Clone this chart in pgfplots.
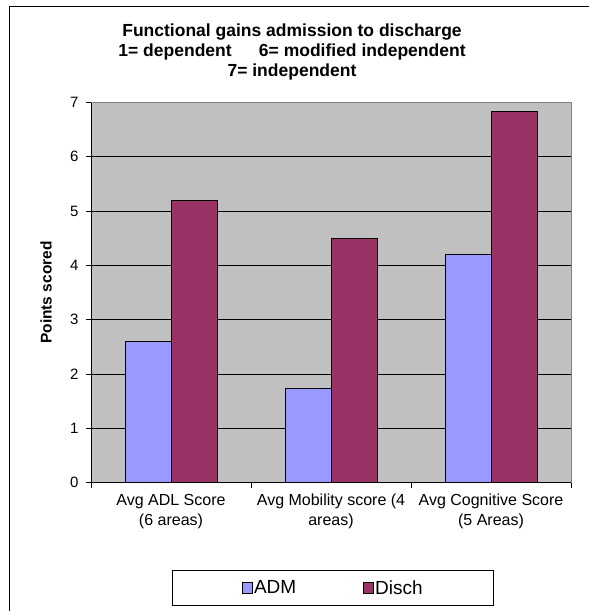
\documentclass[border=0pt]{standalone}
\usepackage{pgfplots}
\pgfplotsset{compat=1.18}
\usepackage{fontspec}
\setmainfont{Liberation Sans}
\definecolor{admc}{HTML}{9999FF}
\definecolor{disc}{HTML}{993366}
\definecolor{plotgray}{HTML}{C0C0C0}
\definecolor{framegray}{HTML}{808080}

\begin{document}
\begin{tikzpicture}
  \useasboundingbox (0pt,0pt) rectangle (589pt,-611pt);
  % chart frame (cut off at right and bottom)
  \draw[line width=0.9pt] (9pt,-611pt) -- (9pt,-6.5pt) -- (589pt,-6.5pt);
  \node[font=\bfseries\fontsize{17.5}{20}\selectfont, align=center,
        anchor=north, inner sep=0pt] at (292pt,-23.5pt)
    {Functional gains admission to discharge\\
     1= dependent \quad\ 6= modified independent\\
     7= independent};
  \begin{axis}[
      at={(91pt,-482.5pt)}, anchor=south west,
      scale only axis, width=480pt, height=380pt,
      ybar=0pt, bar width=46pt,
      xmin=-0.5, xmax=2.5, ymin=0, ymax=7,
      axis background/.style={fill=plotgray},
      axis line style={draw=framegray, line width=0.8pt},
      ymajorgrids, major grid style={draw=black, line width=0.8pt},
      ytick={0,1,...,7}, ytick pos=left, xtick pos=bottom,
      tick align=outside, major tick length=5pt,
      tick style={black, line width=0.8pt},
      xtick={0,1,2},
      xticklabels={{Avg ADL Score\\(6 areas)},
                   {Avg Mobility score (4\\areas)},
                   {Avg Cognitive Score\\(5 Areas)}},
      major x tick style={draw=none},
      minor xtick={-0.5,0.5,1.5,2.5},
      minor tick length=5pt,
      minor x tick style={black, line width=0.8pt},
      xticklabel style={align=center, font=\fontsize{16}{20}\selectfont, yshift=-3pt},
      yticklabel style={font=\fontsize{15}{18}\selectfont, xshift=-4pt},
      /pgf/number format/assume math mode=true,
      ylabel={Points scored},
      ylabel style={font=\bfseries\fontsize{15.5}{18}\selectfont,
        at={(rel axis cs:0,0.5)}, anchor=center, yshift=45pt},
      legend style={at={(0.504,-0.278)}, anchor=center, legend columns=2,
        draw=black, line width=0.8pt, inner xsep=70pt, inner ysep=9pt,
        font=\fontsize{19}{22}\selectfont, nodes={inner sep=1pt},
        /tikz/every even column/.append style={column sep=66pt}},
      legend image code/.code={\draw[#1, line width=0.8pt] (0pt,-5.5pt) rectangle (10pt,5.5pt);},
    ]
    \addplot[fill=admc, draw=black, line width=0.8pt] coordinates {(0,2.6) (1,1.74) (2,4.21)};
    \addplot[fill=disc, draw=black, line width=0.8pt] coordinates {(0,5.2) (1,4.5) (2,6.83)};
    \draw[black, line width=0.9pt] (rel axis cs:0,1) -- (rel axis cs:0,0) -- (rel axis cs:1,0);
    \legend{ADM, Disch}
  \end{axis}
\end{tikzpicture}
\end{document}
